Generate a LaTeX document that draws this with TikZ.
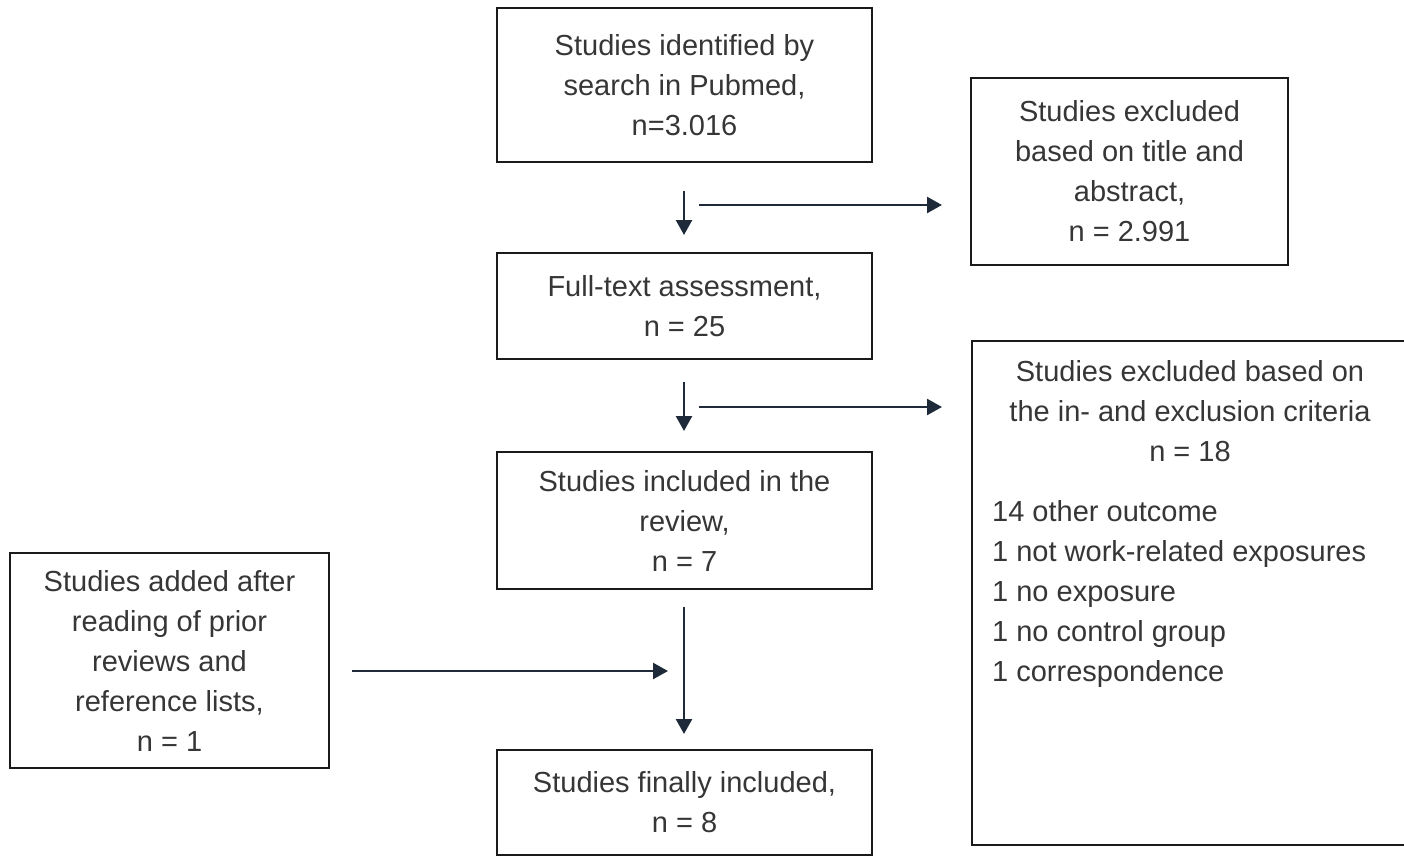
\documentclass[tikz,border=0pt]{standalone}
\usepackage{fontspec}
\setmainfont{Liberation Sans}
\usetikzlibrary{arrows.meta}
\definecolor{txt}{HTML}{363636}
\definecolor{arr}{HTML}{1E2A3A}
\definecolor{frame}{HTML}{1A1A1A}
\begin{document}
\begin{tikzpicture}[x=1pt,y=-1pt,
  box/.style={draw=frame,line width=1.3pt,rectangle,inner sep=0pt,
    text=txt,align=center,font=\fontsize{29}{40}\selectfont},
  lbl/.style={text=txt,inner sep=0pt,font=\fontsize{29}{40}\selectfont},
  flow/.style={draw=arr,line width=2.4pt,-{Triangle[length=15pt,width=16pt]}}]
\useasboundingbox (0,0) rectangle (1404,856);
\clip (0,0) rectangle (1404,856);
% boxes
\node[box,minimum width=375,minimum height=154] (A) at (684.5,85)
  {Studies identified by\\search in Pubmed,\\n=3.016};
\node[box,minimum width=317,minimum height=187] (B) at (1129.5,171.5)
  {Studies excluded\\based on title and\\abstract,\\n = 2.991};
\node[box,minimum width=375,minimum height=106] (C) at (684.5,306)
  {Full-text assessment,\\n = 25};
\node[box,minimum width=375,minimum height=137] (E) at (684.5,520.5)
  {Studies included in the\\review,\\n = 7};
\node[box,minimum width=319,minimum height=215] (F) at (169.5,660.5)
  {Studies added after\\reading of prior\\reviews and\\reference lists,\\n = 1};
\node[box,minimum width=375,minimum height=105] (G) at (684.5,802.5)
  {Studies finally included,\\n = 8};
\node[box,minimum width=470,minimum height=504] (D) at (1207,593) {};
\node[lbl,align=center] (Dt) at (1190,411)
  {Studies excluded based on\\the in- and exclusion criteria\\n = 18};
\node[lbl,align=left,anchor=west] (Dl) at (992,594)
  {14 other outcome\\1 not work-related exposures\\1 no exposure\\1 no control group\\1 correspondence};
% connector end points
\coordinate (v1s) at (684,191); \coordinate (v1e) at (684,235);
\coordinate (h1s) at (699,205); \coordinate (h1e) at (942,205);
\coordinate (v2s) at (684,382); \coordinate (v2e) at (684,431);
\coordinate (h2s) at (699,407); \coordinate (h2e) at (942,407);
\coordinate (v3s) at (684,607); \coordinate (v3e) at (684,734);
\coordinate (h3s) at (352,671); \coordinate (h3e) at (668,671);
\draw[flow] (v1s) -- (v1e);
\draw[flow] (h1s) -- (h1e);
\draw[flow] (v2s) -- (v2e);
\draw[flow] (h2s) -- (h2e);
\draw[flow] (v3s) -- (v3e);
\draw[flow] (h3s) -- (h3e);
\end{tikzpicture}
\end{document}
